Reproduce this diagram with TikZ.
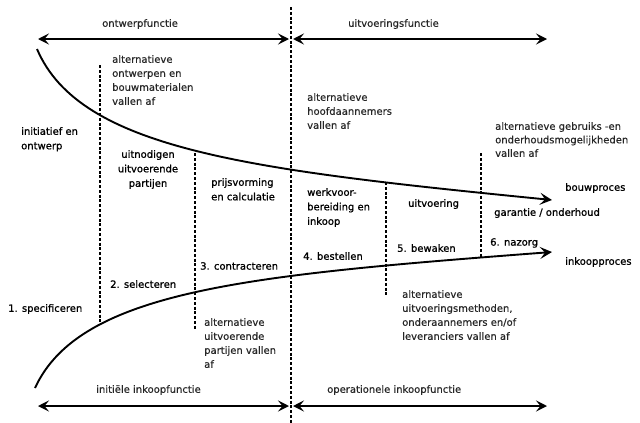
\documentclass[tikz,border=0pt]{standalone}
\usepackage{fontspec}
\setmainfont{DejaVu Sans}
\newfontfamily\notefont[FakeBold=0.4]{DejaVu Sans}
\newfontfamily\phasefont[FakeBold=1.0]{DejaVu Sans}
\usetikzlibrary{arrows.meta}
\tikzset{
  lbl/.style={anchor=north west, inner sep=0pt, align=left, font=\notefont\fontsize{10}{14}\selectfont, text=black!85},
  phase/.style={anchor=north west, inner sep=0pt, align=left, font=\phasefont\fontsize{10}{14.5}\selectfont, text=black},
  tip/.style={Stealth[length=11pt,width=11pt,inset=4.5pt]},
  span/.style={line width=1.7pt, {Stealth[length=11pt,width=11pt,inset=4.5pt]}-{Stealth[length=11pt,width=11pt,inset=4.5pt]}},
  proc/.style={line width=1.9pt, -{Stealth[length=12pt,width=12pt,inset=5pt]}},
  divider/.style={line width=1.3pt, dash pattern=on 3pt off 1.8pt}
}
\begin{document}
\begin{tikzpicture}[x=1pt,y=-1pt]
\useasboundingbox (0,0) rectangle (640,423);

% phase boundaries
\coordinate (m1) at (291,7);   \coordinate (m2) at (291,423);
\coordinate (d1a) at (100,65); \coordinate (d1b) at (100,322);
\coordinate (d2a) at (195,153);\coordinate (d2b) at (195,330);
\coordinate (d4a) at (386,182);\coordinate (d4b) at (386,297);
\coordinate (d5a) at (481,153);\coordinate (d5b) at (481,257);
\draw[divider] (m1) -- (m2);
\draw[divider] (d1a) -- (d1b);
\draw[divider] (d2a) -- (d2b);
\draw[divider] (d4a) -- (d4b);
\draw[divider] (d5a) -- (d5b);

% function spans
\coordinate (tl) at (38,39);  \coordinate (tm1) at (289,39);
\coordinate (tm2) at (293,39); \coordinate (tr) at (547,39);
\coordinate (bl) at (38,406);  \coordinate (bm1) at (289,406);
\coordinate (bm2) at (293,406); \coordinate (br) at (547,406);
\draw[span] (tl) -- (tm1);
\draw[span] (tm2) -- (tr);
\draw[span] (bl) -- (bm1);
\draw[span] (bm2) -- (br);

\node[lbl] (ontw) at (102,19) {ontwerpfunctie};
\node[lbl] (uitv) at (348,19) {uitvoeringsfunctie};
\node[lbl] (init) at (96,385) {initiële inkoopfunctie};
\node[lbl] (oper) at (327,385) {operationele inkoopfunctie};

% process curves
\coordinate (bs) at (37,49);  \coordinate (be) at (552,200);
\coordinate (is) at (35,388); \coordinate (ie) at (552,252);
\draw[proc] (bs) .. controls (80,150) and (250,170) .. (be);
\draw[proc] (is) .. controls (80,290) and (250,275) .. (ie);

\node[phase] (bouw) at (565,183) {bouwproces};
\node[phase] (inkp) at (565,257) {inkoopproces};

% phases of the building process
\node[phase] (p1) at (21,127) {initiatief en\\ontwerp};
\node[phase, anchor=north, align=center] (p2) at (148,150) {uitnodigen\\uitvoerende\\partijen};
\node[phase] (p3) at (211,178) {prijsvorming\\en calculatie};
\node[phase] (p4) at (307,188) {werkvoor-\\bereiding en\\inkoop};
\node[phase] (p5) at (408,199) {uitvoering};
\node[phase] (p6) at (494,208) {garantie / onderhoud};

% purchasing steps
\node[phase] (s1) at (8,304) {1. specificeren};
\node[phase] (s2) at (110,280) {2. selecteren};
\node[phase] (s3) at (200,262) {3. contracteren};
\node[phase] (s4) at (303,252) {4. bestellen};
\node[phase] (s5) at (397,244) {5. bewaken};
\node[phase] (s6) at (490,238) {6. nazorg};

% alternatives that drop out
\node[lbl] (a1) at (112,55) {alternatieve\\ontwerpen en\\bouwmaterialen\\vallen af};
\node[lbl] (a2) at (307,93) {alternatieve\\hoofdaannemers\\vallen af};
\node[lbl, font=\notefont\fontsize{10}{13.5}\selectfont] (a3) at (495,122) {alternatieve gebruiks -en\\onderhoudsmogelijkheden\\vallen af};
\node[lbl] (a4) at (204,318) {alternatieve\\uitvoerende\\partijen vallen\\af};
\node[lbl] (a5) at (402,290) {alternatieve\\uitvoeringsmethoden,\\onderaannemers en/of\\leveranciers vallen af};
\end{tikzpicture}
\end{document}
